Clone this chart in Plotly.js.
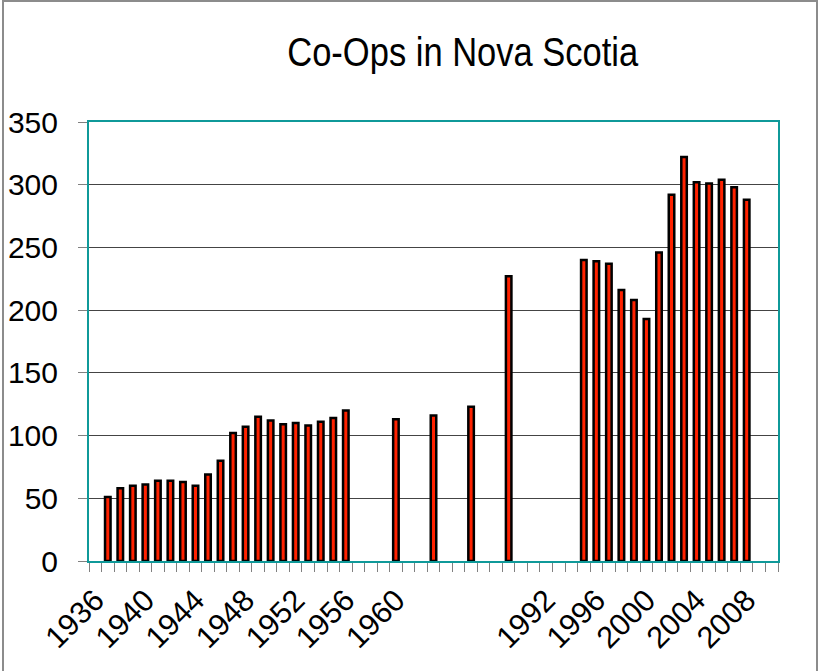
<!DOCTYPE html>
<html>
<head>
<meta charset="utf-8">
<script src="https://cdn.plot.ly/plotly-3.0.1.min.js"></script>
<style>
  html, body { margin: 0; padding: 0; background: #ffffff; }
  #frame { position: absolute; left: 2px; top: 0px; width: 816px; height: 680px; border: 2px solid #8c8c8c; box-sizing: border-box; pointer-events: none; }
  #chart { width: 819px; height: 671px; }
</style>
</head>
<body>
<div id="chart"></div>
<div id="frame"></div>
<script>
// Category slots along the x axis (unnamed slots are blank)
const slotLabels = [
  '1936','1937','1938','1939','1940','1941','1942','1943','1944','1945',
  '1946','1947','1948','1949','1950','1951','1952','1953','1954','1955',
  '1956','1957','1958','1959','1960','','','','','',
  '','','','','','','1992','1993','1994','1995',
  '1996','1997','1998','1999','2000','2001','2002','2003','2004','2005',
  '2006','2007','2008','2009','2010'
];
// Number of co-ops per slot (null = no bar)
const coops = [
  null, 51, 58, 60, 61, 64, 64, 63, 60, 69,
  80, 102, 107, 115, 112, 109, 110, 108, 111, 114,
  120, null, null, null, 113, null, null, 116, null, null,
  123, null, null, 227, null, null, null, null, null, 240,
  239, 237, 216, 208, 193, 246, 292, 322, 302, 301,
  304, 298, 288, null, null
];
const labelStep = 4;

const xIdx = slotLabels.map((_, i) => i);
const tickVals = xIdx.filter(i => i % labelStep === 0);
const tickText = tickVals.map(i => slotLabels[i]);

const teal = '#0f9999';
const baseFont = 'Liberation Sans, Arial, sans-serif';

const trace = {
  type: 'bar',
  x: xIdx,
  y: coops,
  width: 0.44,
  marker: { color: '#ff2200', line: { color: '#000000', width: 2.5 } },
  hoverinfo: 'x+y'
};

const layout = {
  width: 819,
  height: 671,
  paper_bgcolor: '#ffffff',
  plot_bgcolor: '#ffffff',
  margin: { l: 89, r: 41, t: 122, b: 110, pad: 0 },
  showlegend: false,
  title: {
    text: 'Co-Ops in Nova Scotia',
    font: { family: baseFont, size: 41, color: '#000000' },
    x: 0.565, xref: 'container', xanchor: 'center',
    y: 1 - 52 / 671, yref: 'container', yanchor: 'middle'
  },
  xaxis: {
    range: [-0.5, slotLabels.length - 0.5],
    tickmode: 'array',
    tickvals: tickVals,
    ticktext: tickText,
    tickangle: -45,
    ticks: '',
    showgrid: false,
    zeroline: false,
    showline: true,
    linecolor: teal,
    linewidth: 2,
    mirror: true,
    tickfont: { family: baseFont, size: 30.5, color: '#000000' },
    ticklabelstandoff: 7,
    minor: { tick0: 0.5, dtick: 1, ticks: 'outside', ticklen: 9, tickcolor: '#808080', tickwidth: 1, showgrid: false }
  },
  yaxis: {
    range: [0, 350],
    dtick: 50,
    tick0: 0,
    ticks: 'outside',
    ticklen: 9,
    tickcolor: '#808080',
    tickwidth: 1,
    showgrid: true,
    gridcolor: '#444444',
    gridwidth: 1,
    zeroline: false,
    showline: true,
    linecolor: teal,
    linewidth: 2,
    mirror: true,
    tickfont: { family: baseFont, size: 30, color: '#000000' },
    ticklabelstandoff: 14
  },
  bargap: 0.5
};

Plotly.newPlot('chart', [trace], layout, { staticPlot: true, displayModeBar: false }).then(function (gd) {
  // The original title uses a narrow face: squeeze the real text to its width
  const t = gd.querySelector('.gtitle');
  if (t) {
    t.setAttribute('textLength', '351');
    t.setAttribute('lengthAdjust', 'spacingAndGlyphs');
  }
});
</script>
</body>
</html>
